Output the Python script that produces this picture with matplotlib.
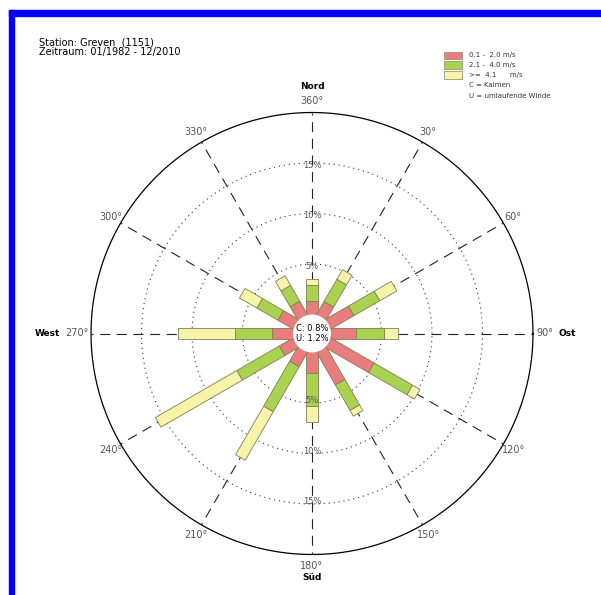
import numpy as np
import matplotlib.pyplot as plt
from matplotlib.patches import Polygon, Circle, Rectangle

# wind directions (degrees, clockwise from north)
directions = [0, 30, 60, 90, 120, 150, 180, 210, 240, 270, 300, 330]
# frequency in percent per speed class
slow = [1.3, 1.45, 2.6, 2.5, 4.9, 3.7, 2.05, 1.6, 1.55, 2.1, 1.7, 1.5]      # 0.1 - 2.0 m/s
medium = [1.6, 2.55, 2.95, 2.7, 4.4, 2.9, 3.25, 5.15, 4.85, 3.65, 2.4, 1.8]  # 2.1 - 4.0 m/s
fast = [0.65, 1.1, 1.95, 1.4, 0.85, 0.65, 1.6, 5.55, 9.3, 5.6, 2.0, 1.1]     # >= 4.1 m/s
calm_pct = 0.8
variable_pct = 1.2

ring_values = [5, 10, 15]
outer_value = 20
class_labels = ['0.1 -  2.0 m/s', '2.1 -  4.0 m/s', '>=  4.1      m/s']
class_colors = ['#e97c7c', '#a9d24f', '#f7f3a8']

HOLE = 1.88      # empty centre, in percent units
BAR_W = 1.1

W, H = 601, 595
fig = plt.figure(figsize=(W / 100, H / 100), dpi=100)
fig.patch.set_facecolor('white')

# blue frame (top and left edge of the original page)
fig.patches.append(Rectangle((9 / W, 0), 5 / W, 1 - 10 / H, transform=fig.transFigure,
                             color='#0000ff', zorder=0))
fig.patches.append(Rectangle((9 / W, 1 - 16 / H), 1, 6 / H, transform=fig.transFigure,
                             color='#0000ff', zorder=0))

cx, cy, scale, half = 312, 333.5, 10.1, 24
ax = fig.add_axes([(cx - half * scale) / W, (H - cy - half * scale) / H,
                   2 * half * scale / W, 2 * half * scale / H])
ax.set_xlim(-half, half)
ax.set_ylim(-half, half)
ax.axis('off')


def unit(deg):
    t = np.radians(deg)
    return np.array([np.sin(t), np.cos(t)]), np.array([np.cos(t), -np.sin(t)])


# rings
R_out = HOLE + outer_value
t = np.linspace(0, 2 * np.pi, 400)
ax.plot(R_out * np.cos(t), R_out * np.sin(t), color='black', lw=0.9, zorder=2)
for v in ring_values:
    r = HOLE + v
    ax.plot(r * np.cos(t), r * np.sin(t), color='#333333', lw=0.8,
            linestyle=(0, (1, 3.5)), zorder=1)

# spokes
for d in directions:
    u, n = unit(d)
    ax.plot([u[0] * HOLE, u[0] * R_out], [u[1] * HOLE, u[1] * R_out],
            color='#222222', lw=0.8, dashes=(9, 6), zorder=1)

# stacked bars
for i, d in enumerate(directions):
    u, n = unit(d)
    start = 0.0
    for vals, col in zip([slow, medium, fast], class_colors):
        r0 = HOLE + start if start > 0 else 0.5
        r1 = HOLE + start + vals[i]
        pts = [u * r0 + n * BAR_W / 2, u * r1 + n * BAR_W / 2,
               u * r1 - n * BAR_W / 2, u * r0 - n * BAR_W / 2]
        ax.add_patch(Polygon(pts, closed=True, facecolor=col, edgecolor='#7f7f55',
                             lw=0.6, zorder=3))
        start += vals[i]

ax.add_patch(Circle((0, 0), HOLE, facecolor='white', edgecolor='none', zorder=4))
ax.text(0, 0.45, f'C: {calm_pct}%', ha='center', va='center', fontsize=6, zorder=5)
ax.text(0, -0.5, f'U: {variable_pct}%', ha='center', va='center', fontsize=6, zorder=5)

# ring labels along north / south spokes
for v in ring_values:
    r = HOLE + v - 0.2
    for sgn in (1, -1):
        ax.text(0, sgn * r, f'{v}%', ha='center', va='center', fontsize=6,
                color='#555555', zorder=5)

# direction labels
lab_r = 23.0
for d in directions:
    u, n = unit(d)
    txt = '360°' if d == 0 else f'{d}°'
    if d == 90:
        ax.text(23.1, 0, txt, ha='center', va='center', fontsize=7, color='#555555')
        ax.text(25.3, 0, 'Ost', ha='center', va='center', fontsize=6.5, fontweight='bold')
    elif d == 270:
        ax.text(-23.3, 0, txt, ha='center', va='center', fontsize=7, color='#555555')
        ax.text(-26.2, 0, 'West', ha='center', va='center', fontsize=6.5, fontweight='bold')
    else:
        ax.text(u[0] * lab_r, u[1] * lab_r, txt, ha='center', va='center', fontsize=7,
                color='#555555')
ax.text(0, lab_r + 1.5, 'Nord', ha='center', va='center', fontsize=6.5, fontweight='bold')
ax.text(0, -lab_r - 1.2, 'Süd', ha='center', va='center', fontsize=6.5, fontweight='bold')

# header
fig.text(39 / W, 1 - 42.5 / H, 'Station: Greven  (1151)', fontsize=7, va='center')
fig.text(39 / W, 1 - 52.5 / H, 'Zeitraum: 01/1982 - 12/2010', fontsize=7, va='center')

# legend
ys = [55.5, 65, 75]
for y, col, lab in zip(ys, class_colors, class_labels):
    fig.patches.append(Rectangle((443.5 / W, 1 - (y + 3.6) / H), 18 / W, 7.2 / H,
                                 transform=fig.transFigure, facecolor=col,
                                 edgecolor='#888866', lw=0.5))
    fig.text(469 / W, 1 - y / H, lab, fontsize=5, va='center', color='#333333')
fig.text(469 / W, 1 - 85.5 / H, 'C = Kalmen', fontsize=5, va='center', color='#333333')
fig.text(469 / W, 1 - 96 / H, 'U = umlaufende Winde', fontsize=5, va='center', color='#333333')

fig.savefig('out.png', dpi=100)
